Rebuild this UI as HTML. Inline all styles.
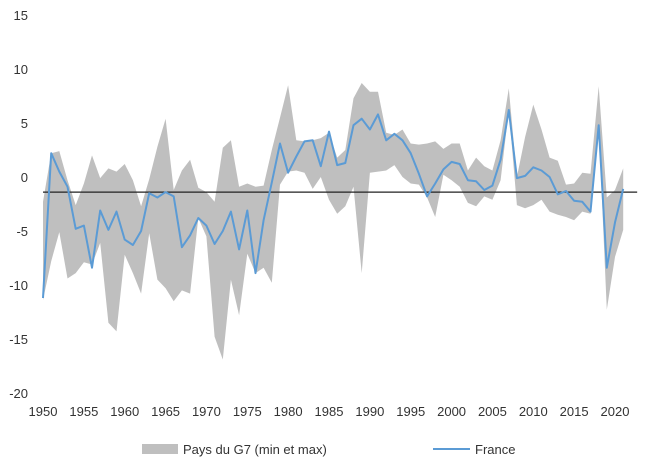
<!DOCTYPE html>
<html><head><meta charset="utf-8"><style>
html,body{margin:0;padding:0;background:#fff;}
svg{display:block;font-family:"Liberation Sans",Arial,sans-serif;}
</style></head><body>
<svg id="chart" width="646" height="462">
<g id="grid"></g>
<g id="xax"></g>
<g id="plot"></g>
<g>
<rect x="142" y="444" width="36" height="10" fill="#bfbfbf"/>
<text x="183" y="454" font-size="13" fill="#333">Pays du G7 (min et max)</text>
<line x1="433" y1="449" x2="470" y2="449" stroke="#5b9bd5" stroke-width="2"/>
<text x="475" y="454" font-size="13" fill="#333">France</text>
</g>
</svg>
<script>
const years = [];
for (let y = 1950; y <= 2021; y++) years.push(y);
const france = [-11.2,2.2,0.5,-0.9,-4.8,-4.5,-8.4,-3.1,-4.9,-3.2,-5.8,-6.3,-5.0,-1.5,-1.9,-1.4,-1.8,-6.5,-5.4,-3.8,-4.5,-6.2,-5.0,-3.2,-6.7,-3.1,-8.9,-4.0,-0.5,3.1,0.4,1.9,3.3,3.4,1.0,4.2,1.1,1.3,4.8,5.4,4.4,5.8,3.4,4.0,3.4,2.2,0.3,-1.8,-0.6,0.7,1.4,1.2,-0.3,-0.4,-1.2,-0.8,1.6,6.2,-0.1,0.1,0.9,0.6,0.0,-1.6,-1.3,-2.2,-2.3,-3.2,4.8,-8.4,-4.2,-1.1];
const g7Max = [-2.3,2.2,2.4,-0.3,-2.6,-0.6,2.0,-0.1,0.8,0.5,1.2,-0.3,-2.7,-0.2,2.8,5.4,-1.2,0.6,1.6,-1.0,-1.4,-2.3,2.7,3.4,-0.9,-0.6,-0.9,-0.8,2.5,5.5,8.5,3.4,3.3,3.4,3.6,4.1,1.8,2.5,7.3,8.7,7.9,7.9,4.1,3.9,4.4,3.1,3.0,3.1,3.3,2.6,3.1,3.1,0.6,1.8,1.0,0.6,3.4,8.2,0.0,3.7,6.7,4.4,1.8,1.5,-0.7,-0.6,0.4,0.3,8.4,-1.9,-1.2,0.8];
const g7Min = [-11.4,-7.8,-5.1,-9.4,-8.9,-7.9,-8.1,-6.1,-13.5,-14.3,-7.2,-8.9,-10.8,-5.2,-9.5,-10.3,-11.5,-10.5,-10.8,-3.8,-5.5,-14.8,-16.9,-9.5,-12.8,-7.1,-8.9,-8.4,-9.8,-0.7,0.5,0.6,0.4,-1.1,0.0,-2.1,-3.4,-2.7,-0.9,-8.9,0.4,0.5,0.6,1.1,0.0,-0.6,-0.7,-1.9,-3.7,0.2,-0.3,-0.9,-2.4,-2.7,-1.8,-2.1,-0.3,6.2,-2.6,-2.9,-2.6,-2.1,-3.2,-3.5,-3.7,-4.0,-3.2,-3.4,4.8,-12.3,-7.4,-4.9];
const yTicks = [15,10,5,0,-5,-10,-15,-20];
const xTicks = [1950,1955,1960,1965,1970,1975,1980,1985,1990,1995,2000,2005,2010,2015,2020];
const refLine = -1.4;

const NS = "http://www.w3.org/2000/svg";
const xs = yr => 43 + (yr - 1950) * (572 / 70);
const ys = v => 177 - v * 10.8;
function mk(tag, attrs, parent) {
  const e = document.createElementNS(NS, tag);
  for (const k in attrs) e.setAttribute(k, attrs[k]);
  parent.appendChild(e);
  return e;
}
const grid = document.getElementById('grid');
const xax = document.getElementById('xax');
const plot = document.getElementById('plot');

yTicks.forEach(t => {
  const tx = mk('text', {x: 28, y: ys(t) + 5, 'text-anchor': 'end', 'font-size': 13, fill: '#333'}, grid);
  
  
  tx.textContent = t;
});
xTicks.forEach(t => {
  const tx = mk('text', {x: xs(t), y: 416, 'text-anchor': 'middle', 'font-size': 13, fill: '#333'}, xax);
  
  
  tx.textContent = t;
});

let d = '';
years.forEach((yr, i) => { d += (i ? 'L' : 'M') + xs(yr).toFixed(1) + ',' + ys(g7Max[i]).toFixed(1); });
for (let i = years.length - 1; i >= 0; i--) d += 'L' + xs(years[i]).toFixed(1) + ',' + ys(g7Min[i]).toFixed(1);
d += 'Z';
const band = mk('path', {d: d, fill: '#bfbfbf', stroke: 'none'}, plot);



const ref = mk('line', {x1: xs(1950), x2: xs(2021) + 14, y1: ys(refLine), y2: ys(refLine), stroke: '#222', 'stroke-width': 1.2}, plot);



let p = '';
years.forEach((yr, i) => { p += (i ? 'L' : 'M') + xs(yr).toFixed(1) + ',' + ys(france[i]).toFixed(1); });
const fl = mk('path', {d: p, fill: 'none', stroke: '#5b9bd5', 'stroke-width': 2, 'stroke-linejoin': 'round'}, plot);


</script>
</body></html>
